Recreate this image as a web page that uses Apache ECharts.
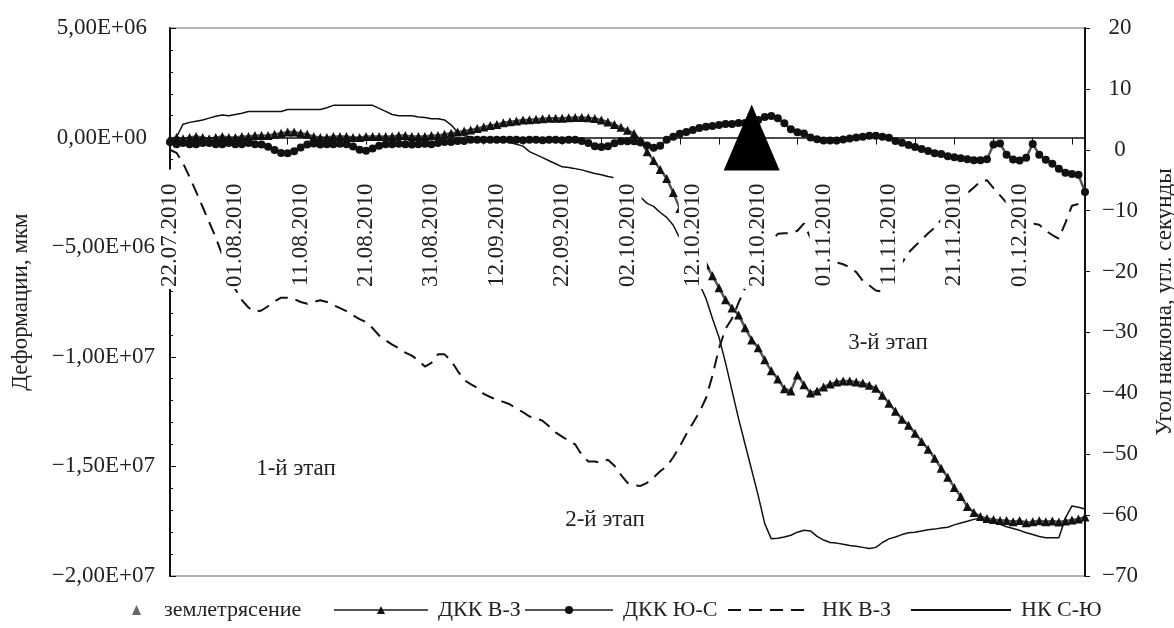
<!DOCTYPE html>
<html>
<head>
<meta charset="utf-8">
<script src="https://cdn.jsdelivr.net/npm/echarts@6/dist/echarts.min.js"></script>
<style>
    html, body { margin: 0; padding: 0; background: #fff; }
    #chart1 { width: 1174px; height: 628px; }
</style>
</head>
<body>
<div id="chart1"></div>
<script>
/* деформации и наклоны, 22.07.2010 - 11.12.2010 */

var FONT = 'Liberation Serif';

// категории оси X (отсчеты)
var categories = [
    '22.07.2010', '23.07.2010', '24.07.2010', '25.07.2010', '26.07.2010', '27.07.2010', '28.07.2010', '29.07.2010', '30.07.2010', '31.07.2010',
    '01.08.2010', '02.08.2010', '03.08.2010', '04.08.2010', '05.08.2010', '06.08.2010', '07.08.2010', '08.08.2010', '09.08.2010', '10.08.2010',
    '11.08.2010', '12.08.2010', '13.08.2010', '14.08.2010', '15.08.2010', '16.08.2010', '17.08.2010', '18.08.2010', '19.08.2010', '20.08.2010',
    '21.08.2010', '22.08.2010', '23.08.2010', '24.08.2010', '25.08.2010', '26.08.2010', '27.08.2010', '28.08.2010', '29.08.2010', '30.08.2010',
    '31.08.2010', '01.09.2010', '02.09.2010', '03.09.2010', '05.09.2010', '06.09.2010', '07.09.2010', '09.09.2010', '10.09.2010', '11.09.2010',
    '12.09.2010', '13.09.2010', '14.09.2010', '15.09.2010', '16.09.2010', '17.09.2010', '18.09.2010', '19.09.2010', '20.09.2010', '21.09.2010',
    '22.09.2010', '23.09.2010', '24.09.2010', '25.09.2010', '26.09.2010', '27.09.2010', '28.09.2010', '29.09.2010', '30.09.2010', '01.10.2010',
    '02.10.2010', '03.10.2010', '04.10.2010', '05.10.2010', '06.10.2010', '07.10.2010', '08.10.2010', '09.10.2010', '10.10.2010', '11.10.2010',
    '12.10.2010', '13.10.2010', '14.10.2010', '15.10.2010', '16.10.2010', '17.10.2010', '18.10.2010', '19.10.2010', '20.10.2010', '21.10.2010',
    '22.10.2010', '23.10.2010', '24.10.2010', '25.10.2010', '26.10.2010', '27.10.2010', '28.10.2010', '29.10.2010', '30.10.2010', '31.10.2010',
    '01.11.2010', '02.11.2010', '03.11.2010', '04.11.2010', '05.11.2010', '06.11.2010', '07.11.2010', '08.11.2010', '09.11.2010', '10.11.2010',
    '11.11.2010', '12.11.2010', '13.11.2010', '14.11.2010', '15.11.2010', '16.11.2010', '17.11.2010', '18.11.2010', '19.11.2010', '20.11.2010',
    '21.11.2010', '22.11.2010', '23.11.2010', '24.11.2010', '25.11.2010', '26.11.2010', '27.11.2010', '28.11.2010', '29.11.2010', '30.11.2010',
    '01.12.2010', '02.12.2010', '03.12.2010', '04.12.2010', '05.12.2010', '06.12.2010', '07.12.2010', '08.12.2010', '09.12.2010', '10.12.2010',
    '11.12.2010'
];

// подписи оси X
var labeledDates = ['22.07.2010', '01.08.2010', '11.08.2010', '21.08.2010', '31.08.2010', '12.09.2010', '22.09.2010',
    '02.10.2010', '12.10.2010', '22.10.2010', '01.11.2010', '11.11.2010', '21.11.2010', '01.12.2010'];

// ДКК В-З, x1E+06 мкм (левая ось)
var dkkVZ = [
    -0.05, 0, -0.05, 0, 0.05, 0, -0.05, 0, 0.05, 0,
    0, 0.05, 0.05, 0.1, 0.1, 0.1, 0.15, 0.2, 0.25, 0.25,
    0.2, 0.15, 0.05, 0, 0, 0.05, 0.05, 0.05, 0, 0,
    0.05, 0.05, 0.05, 0.05, 0.05, 0.1, 0.1, 0.05, 0.05, 0.05,
    0.1, 0.1, 0.15, 0.2, 0.25, 0.3, 0.35, 0.42, 0.48, 0.55,
    0.6, 0.68, 0.72, 0.76, 0.8, 0.82, 0.84, 0.86, 0.88, 0.88,
    0.88, 0.9, 0.92, 0.92, 0.9, 0.87, 0.8, 0.71, 0.6, 0.47,
    0.33, 0.19, -0.13, -0.64, -1.05, -1.46, -1.87, -2.51, -3.24, -3.88,
    -4.52, -5.16, -5.8, -6.3, -6.85, -7.4, -7.77, -8.09, -8.68, -9.23,
    -9.59, -10.14, -10.64, -11.01, -11.46, -11.56, -10.83, -11.28, -11.65, -11.56,
    -11.38, -11.24, -11.15, -11.1, -11.1, -11.15, -11.2, -11.3, -11.43, -11.75,
    -12.12, -12.48, -12.85, -13.12, -13.49, -13.86, -14.22, -14.63, -15.09, -15.5,
    -15.96, -16.37, -16.83, -17.1, -17.29, -17.38, -17.42, -17.47, -17.47, -17.52,
    -17.47, -17.57, -17.53, -17.48, -17.53, -17.49, -17.54, -17.49, -17.45, -17.4,
    -17.31
];

// ДКК Ю-С, x1E+06 мкм (левая ось)
var dkkYuS = [
    -0.2, -0.3, -0.25, -0.3, -0.3, -0.25, -0.25, -0.3, -0.3, -0.25,
    -0.3, -0.3, -0.25, -0.3, -0.32, -0.42, -0.56, -0.7, -0.71, -0.62,
    -0.45, -0.31, -0.27, -0.32, -0.3, -0.3, -0.28, -0.3, -0.41, -0.55,
    -0.6, -0.5, -0.37, -0.3, -0.3, -0.28, -0.3, -0.32, -0.3, -0.28,
    -0.3, -0.25, -0.2, -0.2, -0.15, -0.15, -0.1, -0.1, -0.1, -0.1,
    -0.1, -0.1, -0.1, -0.1, -0.12, -0.1, -0.1, -0.12, -0.1, -0.1,
    -0.12, -0.1, -0.1, -0.15, -0.25, -0.39, -0.43, -0.39, -0.26, -0.17,
    -0.17, -0.17, -0.22, -0.36, -0.46, -0.37, -0.1, 0.04, 0.17, 0.26,
    0.35, 0.44, 0.49, 0.53, 0.58, 0.62, 0.62, 0.67, 0.67, 0.71,
    0.8, 0.94, 0.98, 0.88, 0.65, 0.38, 0.24, 0.19, 0.01, -0.08,
    -0.13, -0.13, -0.13, -0.09, -0.04, 0, 0.04, 0.09, 0.09, 0.04,
    -0.01, -0.15, -0.24, -0.34, -0.43, -0.52, -0.61, -0.71, -0.75, -0.85,
    -0.9, -0.94, -0.99, -1.03, -1.03, -0.99, -0.32, -0.27, -0.78, -1.0,
    -1.05, -0.92, -0.29, -0.78, -1.01, -1.19, -1.42, -1.6, -1.66, -1.7,
    -2.48
];

// НК В-З, угл. секунды (правая ось)
var nkVZ = [
    0.0, -0.5, -2.2, -4.5, -6.9, -9.4, -11.9, -14.4, -17.3, -20.3,
    -22.9, -24.7, -25.9, -26.6, -26.4, -25.7, -24.9, -24.3, -24.3, -24.5,
    -25.0, -25.3, -25.0, -24.7, -25.0, -25.5, -26.0, -26.5, -27.2, -27.8,
    -28.3, -29.3, -30.5, -31.3, -32.0, -32.6, -33.3, -33.8, -34.6, -35.6,
    -35.0, -33.6, -33.6, -34.6, -36.3, -37.8, -38.5, -39.1, -40.1, -40.6,
    -41.1, -41.4, -41.8, -42.5, -43.1, -43.8, -44.1, -44.5, -45.4, -46.4,
    -47.1, -47.8, -48.4, -50.1, -51.2, -51.2, -51.4, -50.9, -51.9, -53.4,
    -54.7, -55.1, -55.2, -54.7, -53.8, -52.8, -52.0, -50.5, -48.7, -46.7,
    -44.9, -43.1, -40.8, -37.1, -32.6, -29.4, -27.7, -25.1, -22.7, -20.7,
    -18.6, -16.6, -15.0, -13.8, -13.7, -13.7, -13.3, -12.1, -14.5, -16.0,
    -17.2, -18.0, -18.5, -18.8, -19.3, -20.1, -21.5, -22.3, -23.1, -23.3,
    -21.8, -20.2, -18.6, -16.9, -15.8, -14.8, -13.7, -12.8, -11.5, -10.4,
    -9.1, -8.1, -7.1, -6.2, -5.2, -5.0, -6.3, -7.5, -8.7, -9.8,
    -11.0, -11.8, -12.1, -12.3, -13.3, -14.0, -14.6, -12.0, -9.2, -8.9,
    -9.2
];

// НК С-Ю, угл. секунды (правая ось)
var nkSYu = [
    0.5, 2.1, 4.2, 4.5, 4.7, 4.9, 5.2, 5.5, 5.7, 5.6,
    5.8, 6.0, 6.3, 6.3, 6.3, 6.3, 6.3, 6.3, 6.6, 6.6,
    6.6, 6.6, 6.6, 6.6, 6.9, 7.3, 7.3, 7.3, 7.3, 7.3,
    7.3, 7.3, 6.8, 6.3, 5.8, 5.6, 5.6, 5.6, 5.4, 5.3,
    5.1, 5.1, 4.9, 4.1, 2.9, 2.3, 2.1, 1.9, 1.9, 1.8,
    1.7, 1.6, 1.2, 0.9, 0.6, -0.3, -0.8, -1.3, -1.8, -2.3,
    -2.8, -2.9, -3.1, -3.3, -3.6, -3.9, -4.1, -4.4, -4.6, -5.3,
    -6.1, -6.9, -7.8, -8.8, -9.3, -10.3, -11.1, -12.4, -14.5, -17.0,
    -19.5, -22.0, -24.4, -27.7, -30.8, -35.0, -39.6, -44.2, -48.4, -52.6,
    -56.8, -61.4, -63.9, -63.8, -63.6, -63.3, -62.8, -62.5, -62.6, -63.5,
    -64.1, -64.5, -64.6, -64.8, -65.0, -65.1, -65.3, -65.5, -65.3, -64.5,
    -63.9, -63.6, -63.2, -62.9, -62.8, -62.6, -62.4, -62.3, -62.1, -62.0,
    -61.6, -61.3, -61.0, -60.7, -60.5, -60.7, -61.0, -61.5, -61.9, -62.2,
    -62.5, -62.9, -63.2, -63.5, -63.7, -63.7, -63.7, -60.5, -58.5, -58.7,
    -59.0
];

// землетрясение
var quakeDate = '21.10.2010';
var quakeValue = 0;

// этапы
var stageNames = ['1-й этап', '2-й этап', '3-й этап'];

// пределы левой оси
var leftMin = -2e7, leftMax = 5e6;

var mychart = echarts.init(document.getElementById('chart1'));

// 5,00E+06
function sciLabel(v) {
    if (v === 0) return '0,00E+00';
    var e = Math.floor(Math.log10(Math.abs(v)) + 1e-9);
    var m = Math.abs(v) / Math.pow(10, e);
    var s = m.toFixed(2).replace('.', ',') + 'E+' + (e < 10 ? '0' + e : e);
    return v < 0 ? '\u2212' + s : s;
}

function toMkm(arr) {
    return arr.map(function (v) { return v * 1e6; });
}

var txt = { fontFamily: FONT, fontSize: 23, color: '#222' };

function legendItem(name, left, width, extra) {
    var lg = {
        data: [name],
        left: left,
        top: 594,
        itemWidth: width,
        itemHeight: 10,
        itemGap: 0,
        textStyle: { fontFamily: FONT, fontSize: 22, color: '#222', padding: [0, 0, 0, 5] }
    };
    if (extra) {
        for (var k in extra) lg[k] = extra[k];
    }
    return lg;
}

var gridTop = 28, gridBottom = 52;
var gridH = 628 - gridTop - gridBottom;
// ось X проходит через ноль левой оси
var xOffset = -gridH * (0 - leftMin) / (leftMax - leftMin);

var option = {
    animation: false,
    backgroundColor: '#fff',
    grid: {
        left: 170,
        right: 89,
        top: gridTop,
        bottom: gridBottom,
        outerBoundsMode: 'none',
        containLabel: false,
        show: true,
        borderColor: '#9a9a9a',
        borderWidth: 1.5
    },
    legend: [
        legendItem({ name: 'землетрясение', icon: 'triangle' }, 127, 9, {
            itemStyle: { color: '#666' },
            textStyle: { fontFamily: FONT, fontSize: 22, color: '#222', padding: [0, 0, 0, 18] }
        }),
        legendItem('ДКК В-З', 328, 94),
        legendItem('ДКК Ю-С', 519, 88),
        legendItem('НК В-З', 722, 84, { itemStyle: { opacity: 0 } }),
        legendItem('НК С-Ю', 905, 100, { itemStyle: { opacity: 0 } })
    ],
    xAxis: {
        type: 'category',
        data: categories,
        boundaryGap: false,
        offset: xOffset,
        z: 4,
        axisLine: { onZero: false, lineStyle: { color: '#111', width: 1.5 } },
        axisTick: { show: true, interval: 5, length: 7, lineStyle: { color: '#111' } },
        axisLabel: {
            interval: function (i, v) { return labeledDates.indexOf(v) >= 0; },
            rotate: 90,
            margin: 32,
            fontFamily: FONT,
            fontSize: 23,
            color: '#222',
            backgroundColor: '#fff',
            lineHeight: 24,
            padding: [2, 14, 2, 2]
        },
        splitLine: { show: false }
    },
    yAxis: [
        {
            type: 'value',
            position: 'left',
            min: leftMin,
            max: leftMax,
            interval: 5e6,
            name: 'Деформации, мкм',
            nameLocation: 'middle',
            nameRotate: 90,
            nameGap: 138,
            nameTextStyle: txt,
            axisLine: { show: true, onZero: false, lineStyle: { color: '#111', width: 2 } },
            axisTick: { show: true, inside: true, length: 6, lineStyle: { color: '#111' } },
            minorTick: { show: true, splitNumber: 5, length: 3, lineStyle: { color: '#111' } },
            axisLabel: {
                margin: 15,
                formatter: function (v) {
                    return v < 0 ? '{n|' + sciLabel(v) + '}' : '{p|' + sciLabel(v) + '}';
                },
                rich: {
                    n: txt,
                    p: { fontFamily: FONT, fontSize: 23, color: '#222', padding: [0, 8, 0, 0] }
                }
            },
            splitLine: { show: false }
        },
        {
            type: 'value',
            position: 'right',
            min: -70,
            max: 20,
            interval: 10,
            name: 'Угол наклона, угл. секунды',
            nameLocation: 'middle',
            nameRotate: 90,
            nameGap: 68,
            nameTextStyle: txt,
            axisLine: { show: true, onZero: false, lineStyle: { color: '#111', width: 2 } },
            axisTick: { show: true, inside: false, length: 5, lineStyle: { color: '#111' } },
            axisLabel: {
                margin: 35,
                align: 'center',
                fontFamily: FONT,
                fontSize: 23,
                color: '#222',
                formatter: function (v) { return v < 0 ? '\u2212' + Math.abs(v) : String(v); }
            },
            splitLine: { show: false }
        }
    ],
    graphic: [
        { type: 'text', x: 296, y: 469, style: { text: stageNames[0], font: '23px "Liberation Serif"', fill: '#222', align: 'center', verticalAlign: 'middle' } },
        { type: 'text', x: 605, y: 520, style: { text: stageNames[1], font: '23px "Liberation Serif"', fill: '#222', align: 'center', verticalAlign: 'middle' } },
        { type: 'text', x: 888, y: 343, style: { text: stageNames[2], font: '23px "Liberation Serif"', fill: '#222', align: 'center', verticalAlign: 'middle' } }
    ],
    series: [
        {
            name: 'землетрясение',
            type: 'scatter',
            yAxisIndex: 0,
            data: [[quakeDate, quakeValue]],
            symbol: 'triangle',
            symbolSize: [56, 66],
            itemStyle: { color: '#000', opacity: 1 },
            z: 6
        },
        {
            name: 'ДКК В-З',
            type: 'line',
            yAxisIndex: 0,
            data: toMkm(dkkVZ),
            symbol: 'triangle',
            symbolSize: 9,
            showAllSymbol: true,
            lineStyle: { color: '#555', width: 2.5 },
            itemStyle: { color: '#111' },
            z: 3
        },
        {
            name: 'ДКК Ю-С',
            type: 'line',
            yAxisIndex: 0,
            data: toMkm(dkkYuS),
            symbol: 'circle',
            symbolSize: 8,
            showAllSymbol: true,
            lineStyle: { color: '#555', width: 2.5 },
            itemStyle: { color: '#111' },
            z: 3
        },
        {
            name: 'НК В-З',
            type: 'line',
            yAxisIndex: 1,
            data: nkVZ,
            symbol: 'none',
            lineStyle: { color: '#111', width: 2, type: [13, 8] },
            itemStyle: { color: '#111' },
            z: 2
        },
        {
            name: 'НК С-Ю',
            type: 'line',
            yAxisIndex: 1,
            data: nkSYu,
            symbol: 'none',
            lineStyle: { color: '#111', width: 1.5 },
            itemStyle: { color: '#111' },
            z: 2
        }
    ]
};

mychart.setOption(option);
</script>
</body>
</html>
